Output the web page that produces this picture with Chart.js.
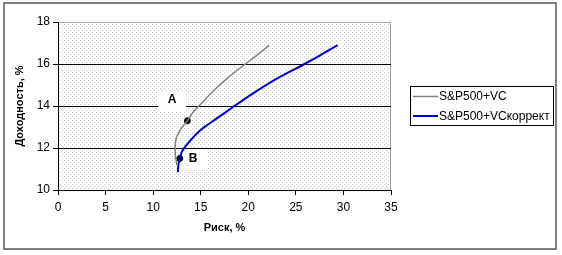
<!DOCTYPE html>
<html>
<head>
<meta charset="utf-8">
<script src="https://cdn.jsdelivr.net/npm/chart.js@4/dist/chart.umd.min.js"></script>
<style>
  html, body { margin: 0; padding: 0; background: #fff; }
  canvas { display: block; }
</style>
</head>
<body>
<canvas id="chart" width="562" height="255"></canvas>
<script>
// Data
const seriesNames = ['S&P500+VC', 'S&P500+VCкоррект'];
const grayX = [12.5, 12.35, 12.3, 12.45, 12.9, 13.6, 14.2, 14.8, 16.4, 18.0, 19.7, 21.0, 22.2];
const grayY = [11.2, 11.6, 12.0, 12.5, 12.9, 13.3, 13.7, 14.0, 14.75, 15.4, 16.0, 16.45, 16.9];
const blueX = [12.6, 12.65, 12.8, 13.0, 13.35, 14.4, 15.25, 16.5, 18.4, 20.5, 23.0, 25.9, 27.5, 29.4];
const blueY = [10.85, 11.2, 11.5, 11.8, 12.05, 12.6, 12.95, 13.35, 13.95, 14.6, 15.3, 16.0, 16.4, 16.9];
const dotX = [13.6, 12.8];
const dotY = [13.3, 11.5];
const noteText = ['A', 'B'];
const noteX = [12.0, 14.2];
const noteY = [14.29, 11.48];
const xTicks = [0, 5, 10, 15, 20, 25, 30, 35];
const yTicks = [10, 12, 14, 16, 18];

const FONT = "'Liberation Sans', Arial, sans-serif";
const toPts = (xs, ys) => xs.map((x, i) => ({ x: x, y: ys[i] }));

// dotted plot background
const tile = document.createElement('canvas');
tile.width = 4; tile.height = 4;
const tctx = tile.getContext('2d');
tctx.fillStyle = '#fff';
tctx.fillRect(0, 0, 4, 4);
tctx.fillStyle = '#cccccc';
tctx.fillRect(0, 0, 1, 1);
tctx.fillRect(2, 2, 1, 1);

// Plugins
const frame = {
  id: 'frame',
  beforeDraw(chart) {
    const c = chart.ctx, a = chart.chartArea;
    c.save();
    c.fillStyle = c.createPattern(tile, 'repeat');
    c.fillRect(a.left, a.top, a.right - a.left, a.bottom - a.top);
    c.strokeStyle = '#a8a8a8';
    c.lineWidth = 1;
    c.beginPath();
    c.moveTo(a.left, a.top + 0.5);
    c.lineTo(a.right - 0.5, a.top + 0.5);
    c.lineTo(a.right - 0.5, a.bottom);
    c.stroke();
    // outer border
    c.strokeStyle = '#808080';
    c.lineWidth = 2;
    c.strokeRect(4, 3, 552, 246);
    c.restore();
  }
};

const notes = {
  id: 'notes',
  beforeDatasetsDraw(chart) {
    const c = chart.ctx;
    const xs = chart.scales.x, ys = chart.scales.y;
    c.save();
    c.font = 'bold 12px ' + FONT;
    c.textAlign = 'center';
    c.textBaseline = 'middle';
    noteText.forEach((t, i) => {
      const px = xs.getPixelForValue(noteX[i]);
      const py = ys.getPixelForValue(noteY[i]);
      c.fillStyle = '#fff';
      c.fillRect(px - 14, py - 9, 28, 20);
      c.fillStyle = '#000';
      c.fillText(t, px, py);
    });
    c.restore();
  }
};

const legendBox = {
  id: 'legendBox',
  afterDraw(chart) {
    const c = chart.ctx;
    const left = chart.chartArea.right + 19;
    const top = 86;
    c.save();
    c.fillStyle = '#fff';
    c.fillRect(left + 0.5, top + 0.5, 143, 39);
    c.strokeStyle = '#000';
    c.lineWidth = 1;
    c.strokeRect(left + 0.5, top + 0.5, 143, 39);
    c.font = '12px ' + FONT;
    c.textBaseline = 'middle';
    seriesNames.forEach((name, i) => {
      const ds = chart.data.datasets[i];
      const y = top + 10.5 + i * 19.5;
      c.strokeStyle = ds.borderColor;
      c.lineWidth = ds.borderWidth;
      c.beginPath();
      c.moveTo(left + 3, y);
      c.lineTo(left + 28, y);
      c.stroke();
      c.fillStyle = '#000';
      c.fillText(name, left + 29, y + 0.5);
    });
    c.restore();
  }
};

const ctx = document.getElementById('chart').getContext('2d');
const chart = new Chart(ctx, {
  type: 'scatter',
  data: {
    datasets: [
      {
        label: seriesNames[0],
        data: toPts(grayX, grayY),
        showLine: true,
        borderColor: '#808080',
        borderWidth: 1.5,
        pointRadius: 0,
        tension: 0.3
      },
      {
        label: seriesNames[1],
        data: toPts(blueX, blueY),
        showLine: true,
        borderColor: '#0000cc',
        borderWidth: 2,
        pointRadius: 0,
        tension: 0.3
      },
      {
        label: 'points',
        data: toPts(dotX, dotY),
        showLine: false,
        pointRadius: 3,
        pointBackgroundColor: '#000',
        pointBorderColor: '#000'
      }
    ]
  },
  options: {
    responsive: false,
    animation: false,
    devicePixelRatio: 1,
    layout: { padding: { left: 0, top: 22, right: 171, bottom: 0 } },
    plugins: {
      legend: { display: false },
      tooltip: { enabled: false }
    },
    scales: {
      x: {
        type: 'linear',
        min: 0,
        max: 35,
        afterBuildTicks: s => { s.ticks = xTicks.map(v => ({ value: v })); },
        afterFit: s => { s.height = 65; },
        ticks: { font: { family: FONT, size: 12 }, color: '#000', padding: 5 },
        grid: { drawOnChartArea: false, drawTicks: true, tickLength: 5, tickColor: '#000' },
        border: { color: '#000', width: 1 },
        title: {
          display: true,
          text: 'Риск, %',
          font: { family: FONT, size: 11, weight: 'bold' },
          color: '#000',
          padding: { top: 0, bottom: 20 }
        }
      },
      y: {
        type: 'linear',
        min: 10,
        max: 18,
        afterBuildTicks: s => { s.ticks = yTicks.map(v => ({ value: v })); },
        afterFit: s => { s.width = 58; },
        ticks: { font: { family: FONT, size: 12 }, color: '#000', padding: 3 },
        grid: {
          color: c => (c.tick && (c.tick.value === 18 || c.tick.value === 10)) ? 'rgba(0,0,0,0)' : '#000',
          tickColor: '#000',
          tickLength: 5,
          lineWidth: 1
        },
        border: { color: '#000', width: 1 },
        title: {
          display: true,
          text: 'Доходность, %',
          font: { family: FONT, size: 11, weight: 'bold' },
          color: '#000',
          padding: { top: 13, bottom: 0 }
        }
      }
    }
  },
  plugins: [frame, notes, legendBox]
});
</script>
</body>
</html>
